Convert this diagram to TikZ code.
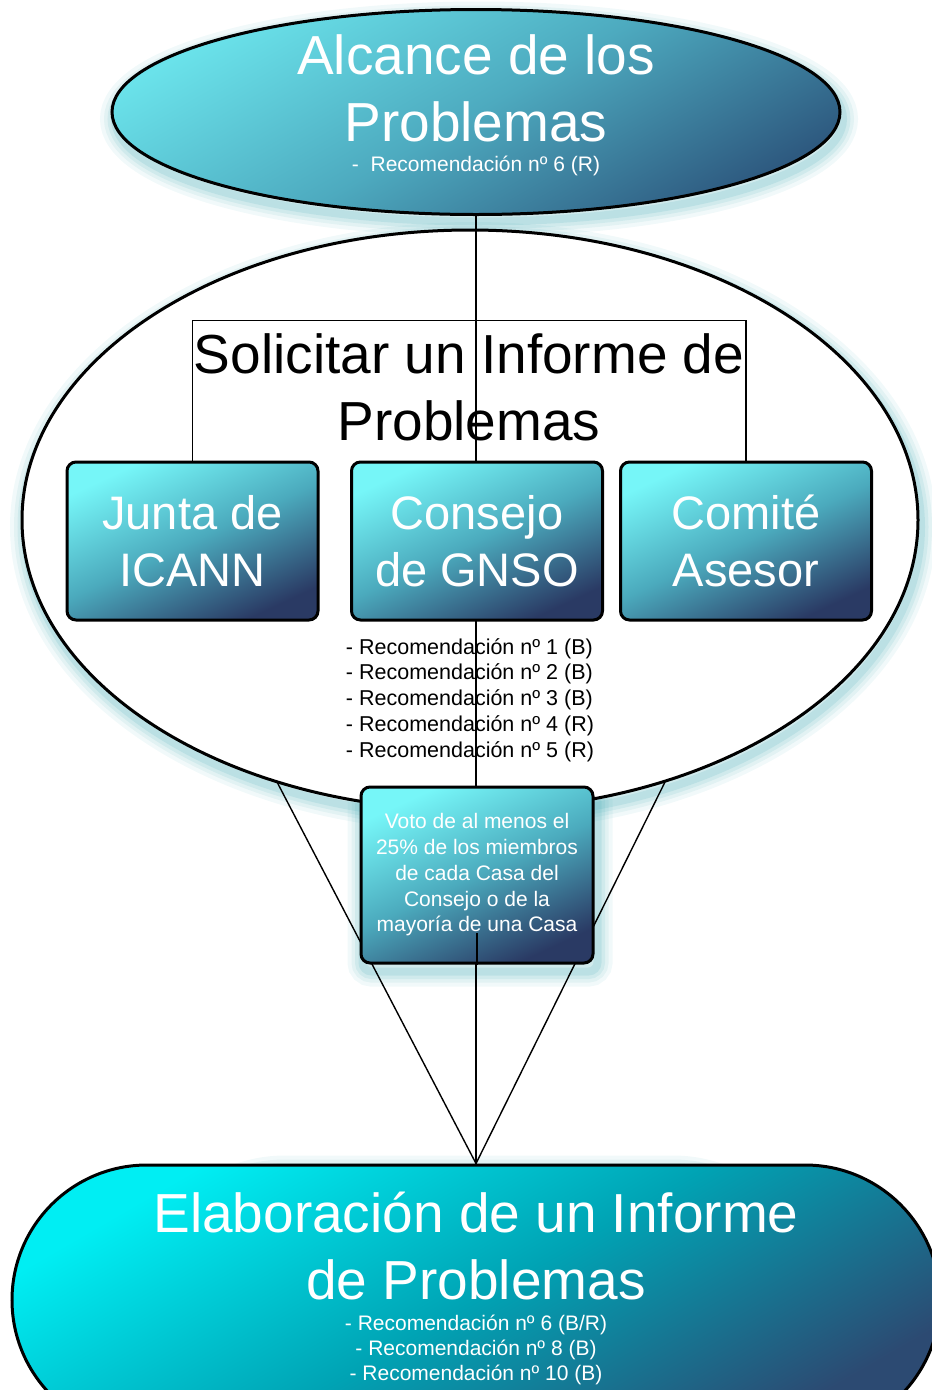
\documentclass[tikz,border=0pt]{standalone}
\usepackage{fontspec}
\setmainfont{Liberation Sans}
\usetikzlibrary{shapes.geometric,shapes.misc}
\pgfdeclarelayer{glow}
\pgfdeclarelayer{back}
\pgfdeclarelayer{lines}
\pgfsetlayers{glow,back,lines,main}
\definecolor{ellTop}{HTML}{6AE2EA}
\definecolor{ellMid}{HTML}{4DAABF}
\definecolor{ellBot}{HTML}{2E5A80}
\definecolor{boxTop}{HTML}{76F6F8}
\definecolor{boxMid}{HTML}{4BAABD}
\definecolor{boxBot}{HTML}{2A3A64}
\definecolor{stTop}{HTML}{00EEF3}
\definecolor{stMid}{HTML}{00A3B4}
\definecolor{stBot}{HTML}{2C4A72}
\definecolor{glowc}{HTML}{3FA8B2}
\tikzset{
  outline/.style={draw=black, line width=3pt},
  conn/.style={draw=black, line width=1.4pt},
  glowline/.style={draw=glowc, fill=none},
  topell/.style={ellipse, outline, minimum width=728pt, minimum height=205pt, inner sep=0pt,
    top color=ellTop, bottom color=ellBot, middle color=ellMid, shading angle=30},
  midell/.style={ellipse, outline, fill=white, minimum width=896pt, minimum height=580pt, inner sep=0pt},
  boxst/.style={rectangle, rounded corners=9pt, outline, minimum width=251pt, minimum height=158pt,
    inner sep=0pt, top color=boxTop, bottom color=boxBot, middle color=boxMid, shading angle=25,
    text=white, align=center, font=\fontsize{47}{57}\selectfont},
  votest/.style={boxst, minimum width=232pt, minimum height=176pt, font=\fontsize{21}{25.75}\selectfont},
  stadium/.style={rounded rectangle, outline, minimum width=928pt, minimum height=270pt, inner sep=0pt,
    top color=stTop, bottom color=stBot, middle color=stMid, shading angle=30},
  titlew/.style={text=white, align=center, inner sep=0pt, font=\fontsize{55}{67}\selectfont},
  titleb/.style={text=black, align=center, inner sep=0pt, font=\fontsize{55}{67}\selectfont},
  smallw/.style={text=white, align=center, inner sep=0pt, font=\fontsize{21}{25}\selectfont},
  listb/.style={text=black, align=left, inner sep=0pt, font=\fontsize{21.5}{25.75}\selectfont},
}
\begin{document}
\begin{tikzpicture}[x=1pt, y=-1pt]
\useasboundingbox (0,0) rectangle (932,1390);
% back shapes
\begin{pgfonlayer}{back}
\node[topell] (top) at (476,112) {};
\node[midell] (mid) at (470,520) {};
\end{pgfonlayer}
% boxes
\node[boxst] (b1) at (192.5,541) {Junta de\\ICANN};
\node[boxst] (b2) at (477,541) {Consejo\\de GNSO};
\node[boxst] (b3) at (746,541) {Comité\\Asesor};
\node[votest] (vote) at (477,875) {Voto de al menos el\\25\% de los miembros\\de cada Casa del\\Consejo o de la\\mayoría de una Casa};
\node[stadium] (bot) at (476,1300) {};
% texts
\node[titlew] (t1) at (476,88) {Alcance de los\\Problemas};
\node[smallw] (t1s) at (476,166) {-\ \ Recomendación nº 6 (R)};
\node[titleb] (solic) at (469,387) {Solicitar un Informe de\\Problemas};
\node[listb] (list) at (470,700) {- Recomendación nº 1 (B)\\- Recomendación nº 2 (B)\\- Recomendación nº 3 (B)\\- Recomendación nº 4 (R)\\- Recomendación nº 5 (R)};
\node[titlew] (t2) at (476,1246) {Elaboración de un Informe\\de Problemas};
\node[smallw] (t2s) at (476,1350) {- Recomendación nº 6 (B/R)\\- Recomendación nº 8 (B)\\- Recomendación nº 10 (B)};
% connectors
\coordinate (ml) at (277,782);
\coordinate (mr) at (665,782);
\coordinate (vt) at (477,933);
\begin{pgfonlayer}{lines}
\draw[conn] (top.south) -- (bot.north);
\draw[conn, line width=1.1pt] (b1.north) -- ++(0,-140) -| (b3.north);
\draw[conn] (ml) -- (bot.north);
\draw[conn] (mr) -- (bot.north);
\end{pgfonlayer}
\draw[conn] (vt) -- (vote.south);
% glows
\begin{pgfonlayer}{glow}
\foreach \w/\o in {30/0.07,22/0.09,15/0.11,8/0.14}{
  \draw[glowline, line width=\w pt, opacity=\o] ([shift={(3,7)}]top.center) ellipse [x radius=364, y radius=102.5];
  \draw[glowline, line width=\w pt, opacity=\o] ([shift={(3,7)}]mid.center) ellipse [x radius=448, y radius=290];
  \draw[glowline, line width=\w pt, opacity=\o, rounded corners=9pt] ([shift={(3,7)}]vote.north west) rectangle ([shift={(3,7)}]vote.south east);
  \draw[glowline, line width=\w pt, opacity=\o, rounded corners=135pt] ([shift={(3,7)}]bot.north west) rectangle ([shift={(3,7)}]bot.south east);
}
\end{pgfonlayer}
\end{tikzpicture}
\end{document}
